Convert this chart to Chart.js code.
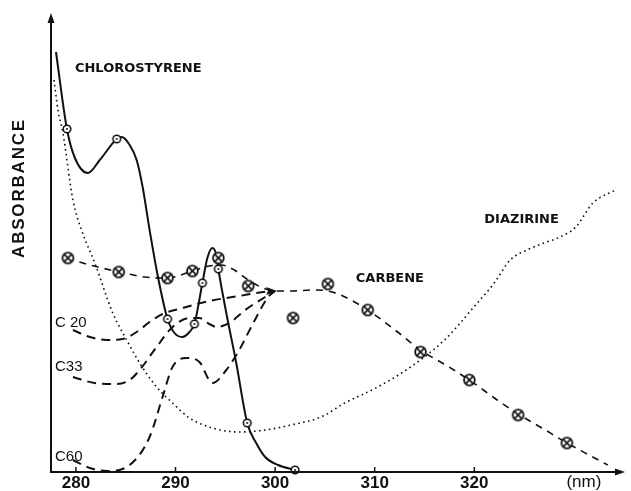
<!DOCTYPE html>
<html>
<head>
<meta charset="utf-8">
<script src="https://cdn.jsdelivr.net/npm/chart.js@4.4.1/dist/chart.umd.min.js"></script>
<style>
  html, body { margin: 0; padding: 0; background: #ffffff; }
  #wrap { width: 631px; height: 491px; }
</style>
</head>
<body>
<div id="wrap"><canvas id="c" width="631" height="491"></canvas></div>
<script>
// Wavelength axis (nm) and tick labels
const wavelengthTicks = [280, 290, 300, 310, 320];
const unitLabel = '(nm)';
const unitLabelAt = 331.0;

// Chlorostyrene absorption trace (solid)
const chloroX = [278.0, 279.1, 279.9, 281.2, 282.4, 284.1, 284.6, 285.4, 286.1, 286.7, 287.4, 288.2, 289.2, 289.9, 290.7, 291.4, 291.9, 292.7, 293.2, 293.7, 294.1, 294.3, 295.1, 296.1, 297.2, 298.1, 299.0, 300.3, 302.0];
const chloroY = [4.20, 3.43, 3.14, 2.99, 3.12, 3.33, 3.35, 3.27, 3.12, 2.85, 2.42, 1.97, 1.53, 1.39, 1.35, 1.40, 1.48, 1.89, 2.14, 2.24, 2.17, 2.03, 1.59, 1.09, 0.49, 0.29, 0.15, 0.07, 0.02];
// Measured chlorostyrene points
const chloroPtsX = [279.1, 284.1, 289.2, 291.9, 292.7, 294.3, 297.2, 302.0];
const chloroPtsY = [3.43, 3.33, 1.53, 1.48, 1.89, 2.03, 0.49, 0.02];

// Diazirine trace (dotted)
const diazX = [277.8, 278.2, 278.7, 279.7, 280.6, 281.9, 283.7, 285.1, 286.4, 288.1, 289.7, 291.4, 293.7, 296.4, 299.0, 301.6, 304.6, 307.0, 310.3, 313.6, 317.0, 320.3, 322.0, 323.6, 325.3, 327.0, 328.6, 330.2, 331.9, 334.2];
const diazY = [3.92, 3.62, 3.39, 2.72, 2.41, 2.09, 1.59, 1.32, 1.09, 0.85, 0.69, 0.54, 0.44, 0.40, 0.42, 0.47, 0.55, 0.69, 0.85, 1.05, 1.32, 1.69, 1.89, 2.12, 2.22, 2.29, 2.35, 2.45, 2.69, 2.82];

// Carbene trace (dashed) and its measured points
const carbeneX = [279.1, 281.4, 284.4, 286.9, 289.2, 291.7, 293.4, 294.6, 295.9, 297.3, 298.8, 300.0, 301.8, 303.8, 305.3, 306.8, 309.3, 312.3, 314.6, 317.3, 319.5, 322.3, 324.4, 326.8, 329.3, 331.7, 333.4];
const carbeneY = [2.14, 2.07, 2.00, 1.95, 1.94, 2.01, 2.06, 2.07, 2.02, 1.92, 1.84, 1.81, 1.81, 1.82, 1.81, 1.76, 1.62, 1.40, 1.22, 1.06, 0.92, 0.72, 0.58, 0.44, 0.29, 0.16, 0.07];
const carbenePtsX = [279.2, 284.3, 289.2, 291.7, 294.3, 297.3, 301.8, 305.3, 309.3, 314.6, 319.5, 324.4, 329.3];
const carbenePtsY = [2.14, 2.00, 1.94, 2.01, 2.14, 1.86, 1.54, 1.88, 1.62, 1.20, 0.92, 0.57, 0.29];
const carbeneArrowIndex = 11;

// Intermediate traces C 20, C 33, C 60 (dashed)
const c20X = [279.7, 281.4, 283.1, 284.7, 286.1, 287.4, 288.7, 290.7, 293.4, 296.4, 298.8, 300.0];
const c20Y = [1.42, 1.35, 1.32, 1.33, 1.40, 1.50, 1.58, 1.64, 1.71, 1.76, 1.80, 1.81];
const c33X = [279.7, 281.9, 284.1, 285.4, 286.4, 288.1, 289.7, 291.4, 292.4, 293.4, 294.1, 295.4, 297.0, 299.0, 300.0];
const c33Y = [0.95, 0.89, 0.88, 0.92, 1.02, 1.25, 1.45, 1.54, 1.54, 1.48, 1.45, 1.49, 1.62, 1.75, 1.81];
const c60X = [279.7, 281.4, 283.1, 285.4, 287.4, 288.7, 289.7, 291.1, 292.4, 293.7, 295.1, 296.4, 297.6, 299.3, 300.0];
const c60Y = [0.12, 0.04, 0.01, 0.07, 0.35, 0.75, 1.05, 1.14, 1.10, 0.89, 1.02, 1.22, 1.45, 1.75, 1.81];

// Curve captions, anchored in data units (left edge, vertical middle)
const captions = [
  { text: 'CHLOROSTYRENE', x: 279.9, y: 4.03, kind: 'name' },
  { text: 'CARBENE', x: 308.1, y: 1.93, kind: 'name' },
  { text: 'DIAZIRINE', x: 321.0, y: 2.52, kind: 'name' },
  { text: 'C 20', x: 277.9, y: 1.49, kind: 'sample' },
  { text: 'C33', x: 277.9, y: 1.05, kind: 'sample' },
  { text: 'C60', x: 277.9, y: 0.15, kind: 'sample' }
];
const yTitle = 'ABSORBANCE';

const INK = '#111111';

function pairs(xs, ys) { return xs.map((x, i) => ({ x: x, y: ys[i] })); }

// Point glyphs: circle with centre dot, and circle with a cross
function makeGlyph(r, kind, lw) {
  const size = Math.ceil(2 * r + lw + 2);
  const cv = document.createElement('canvas');
  cv.width = size; cv.height = size;
  const g = cv.getContext('2d');
  const c = size / 2;
  g.lineWidth = lw;
  g.strokeStyle = INK;
  g.fillStyle = '#ffffff';
  g.beginPath(); g.arc(c, c, r, 0, Math.PI * 2); g.fill(); g.stroke();
  if (kind === 'dot') {
    g.fillStyle = INK;
    g.beginPath(); g.arc(c, c, 1.0, 0, Math.PI * 2); g.fill();
  } else {
    const d = r * 0.62;
    g.lineWidth = lw * 0.9;
    g.beginPath();
    g.moveTo(c - d, c - d); g.lineTo(c + d, c + d);
    g.moveTo(c + d, c - d); g.lineTo(c - d, c + d);
    g.stroke();
  }
  return cv;
}
const dotGlyph = makeGlyph(3.8, 'dot', 1.6);
const crossGlyph = makeGlyph(5.4, 'cross', 1.8);

const lineBase = {
  type: 'line',
  showLine: true,
  fill: false,
  pointRadius: 0,
  pointHoverRadius: 0,
  borderColor: INK,
  cubicInterpolationMode: 'monotone',
  clip: false
};

const decorations = {
  id: 'decorations',
  afterDatasetsDraw(chart) {
    const ctx = chart.ctx;
    const a = chart.chartArea;
    const sx = chart.scales.x;
    const sy = chart.scales.y;
    ctx.save();
    ctx.strokeStyle = INK;
    ctx.fillStyle = INK;
    ctx.lineWidth = 2;
    ctx.setLineDash([]);

    // y axis with arrow
    ctx.beginPath();
    ctx.moveTo(a.left, a.bottom + 1);
    ctx.lineTo(a.left, a.top + 2);
    ctx.stroke();
    ctx.beginPath();
    ctx.moveTo(a.left, a.top - 2);
    ctx.lineTo(a.left - 3.5, a.top + 8);
    ctx.lineTo(a.left + 3.5, a.top + 8);
    ctx.closePath();
    ctx.fill();

    // x axis with arrow
    ctx.beginPath();
    ctx.moveTo(a.left - 1, a.bottom);
    ctx.lineTo(a.right - 4, a.bottom);
    ctx.stroke();
    ctx.beginPath();
    ctx.moveTo(a.right + 1, a.bottom);
    ctx.lineTo(a.right - 9, a.bottom - 3.5);
    ctx.lineTo(a.right - 9, a.bottom + 3.5);
    ctx.closePath();
    ctx.fill();

    // ticks and tick labels
    ctx.lineWidth = 1.5;
    ctx.font = 'bold 17px "Liberation Sans", Arial, sans-serif';
    ctx.textAlign = 'center';
    ctx.textBaseline = 'middle';
    wavelengthTicks.forEach(v => {
      const px = sx.getPixelForValue(v);
      ctx.beginPath();
      ctx.moveTo(px, a.bottom);
      ctx.lineTo(px, a.bottom - 5);
      ctx.stroke();
      ctx.fillText(String(v), px, a.bottom + 11);
    });
    ctx.font = '17px "Liberation Sans", Arial, sans-serif';
    ctx.fillText(unitLabel, sx.getPixelForValue(unitLabelAt), a.bottom + 10);

    // arrowhead where the traces meet the carbene curve
    const meta = chart.getDatasetMeta(chart.data.datasets.findIndex(d => d.label === 'Carbene'));
    const tip = meta.data[carbeneArrowIndex];
    if (tip) {
      ctx.beginPath();
      ctx.moveTo(tip.x + 2, tip.y);
      ctx.lineTo(tip.x - 9, tip.y - 4);
      ctx.lineTo(tip.x - 7, tip.y);
      ctx.lineTo(tip.x - 9, tip.y + 4);
      ctx.closePath();
      ctx.fill();
    }

    // curve captions
    ctx.textAlign = 'left';
    captions.forEach(c => {
      ctx.font = c.kind === 'name'
        ? 'bold 13px "DejaVu Sans", sans-serif'
        : '15px "Liberation Sans", Arial, sans-serif';
      ctx.fillText(c.text, sx.getPixelForValue(c.x), sy.getPixelForValue(c.y));
    });

    // vertical axis title
    ctx.save();
    ctx.translate(19, 188);
    ctx.rotate(-Math.PI / 2);
    ctx.font = 'bold 17px "Liberation Sans", Arial, sans-serif';
    ctx.letterSpacing = '1.8px';
    ctx.textAlign = 'center';
    ctx.fillText(yTitle, 0, 0);
    ctx.restore();

    ctx.restore();
  }
};

new Chart(document.getElementById('c'), {
  type: 'scatter',
  data: {
    datasets: [
      { label: 'Carbene points', data: pairs(carbenePtsX, carbenePtsY), showLine: false,
        pointStyle: crossGlyph, pointRadius: 6, pointHoverRadius: 6, clip: false },
      { label: 'Chlorostyrene points', data: pairs(chloroPtsX, chloroPtsY), showLine: false,
        pointStyle: dotGlyph, pointRadius: 4, pointHoverRadius: 4, clip: false },
      Object.assign({}, lineBase, { label: 'Chlorostyrene', data: pairs(chloroX, chloroY), borderWidth: 2 }),
      Object.assign({}, lineBase, { label: 'Carbene', data: pairs(carbeneX, carbeneY), borderWidth: 1.6, borderDash: [7, 6] }),
      Object.assign({}, lineBase, { label: 'C 20', data: pairs(c20X, c20Y), borderWidth: 2, borderDash: [9, 6] }),
      Object.assign({}, lineBase, { label: 'C 33', data: pairs(c33X, c33Y), borderWidth: 2, borderDash: [9, 6] }),
      Object.assign({}, lineBase, { label: 'C 60', data: pairs(c60X, c60Y), borderWidth: 2, borderDash: [9, 6] }),
      Object.assign({}, lineBase, { label: 'Diazirine', data: pairs(diazX, diazY), borderWidth: 1.6, borderDash: [1.6, 3.4] })
    ]
  },
  options: {
    responsive: false,
    animation: false,
    devicePixelRatio: 1,
    events: [],
    layout: { padding: { left: 51, top: 15, right: 3, bottom: 19 } },
    scales: {
      x: { type: 'linear', min: 277.5, max: 335.03, display: false },
      y: { type: 'linear', min: 0, max: 4.57, display: false }
    },
    plugins: {
      legend: { display: false },
      tooltip: { enabled: false }
    }
  },
  plugins: [decorations]
});
</script>
</body>
</html>
